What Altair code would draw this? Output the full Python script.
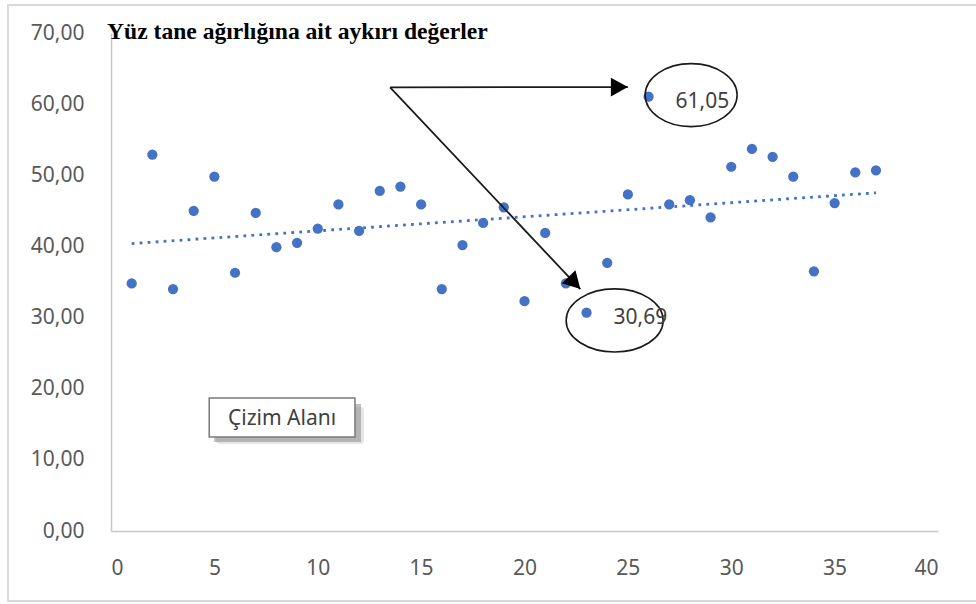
import altair as alt
import pandas as pd

# Sample number and measured hundred-grain weight
sira = list(range(1, 38))
agirlik = [34.8, 52.9, 34.0, 45.0, 49.8, 36.3, 44.7, 39.9, 40.5, 42.5,
           45.9, 42.2, 47.8, 48.4, 45.9, 34.0, 40.2, 43.3, 45.5, 32.3,
           41.9, 34.8, 30.69, 37.7, 47.3, 61.05, 45.9, 46.5, 44.1, 51.2,
           53.7, 52.6, 49.8, 36.5, 46.1, 50.4, 50.7]

# Samples flagged as outliers
aykiri = [26, 23]

# Axis ticks
x_ticks = list(range(0, 41, 5))
y_ticks = list(range(0, 71, 10))

# Annotation geometry (data units)
ok_baslangic = (13.5, 62.36)
ok_uclari_x = [25.0, 22.7]
ok_uclari_y = [62.4, 34.0]
ok_acilari = [0, 46.7]
elips_x = [28.06, 24.36]
elips_y = [61.27, 29.6]
kutu = {"x": 4.75, "x2": 11.8, "y": 13.2, "y2": 18.7}
kutu_metin = "Çizim Alanı"
baslik = "Yüz tane ağırlığına ait aykırı değerler"

W, H = 827, 498
BLUE = "#4472C4"
TXT = "#595959"
FONT = "Noto Sans"

df = pd.DataFrame({"sira": sira, "agirlik": agirlik})
df_out = df[df["sira"].isin(aykiri)]

xs = alt.Scale(domain=[0, 40], nice=False)
ys = alt.Scale(domain=[0, 70], nice=False)

AX = alt.Axis(values=x_ticks, title=None, grid=False, ticks=False,
              domainColor="#C8C8C8", domainWidth=1.5, labelColor=TXT,
              labelFont=FONT, labelFontSize=21, labelPadding=26)
AY = alt.Axis(values=y_ticks, title=None, grid=False, ticks=False,
              domainColor="#C8C8C8", domainWidth=1.5, labelColor=TXT,
              labelFont=FONT, labelFontSize=21, labelPadding=27,
              labelExpr="replace(format(datum.value, '.2f'), '.', ',')")


# annotation layers share the scales but draw no axes of their own
def X(field):
    return alt.X(field, scale=xs, axis=None)


def Y(field):
    return alt.Y(field, scale=ys, axis=None)


one = pd.DataFrame({"a": [0]})

# light border around the whole chart area
frame = alt.Chart(one).mark_rect(
    fill=None, stroke="#D9D9D9", strokeWidth=2
).encode(x=alt.value(-103), x2=alt.value(W + 60), y=alt.value(-28), y2=alt.value(568))

title = alt.Chart(one).mark_text(
    text=baslik, font="Liberation Serif", fontSize=23.6, fontWeight="bold",
    color="#000000", align="left", baseline="alphabetic"
).encode(x=alt.value(-4), y=alt.value(6))

points = alt.Chart(df).mark_circle(size=105, color=BLUE, opacity=1).encode(
    x=alt.X("sira:Q", scale=xs, axis=AX),
    y=alt.Y("agirlik:Q", scale=ys, axis=AY),
)

trend = alt.Chart(df).transform_regression("sira", "agirlik").mark_line(
    color=BLUE, strokeWidth=2.8, strokeDash=[2.8, 5.2], strokeCap="butt"
).encode(x=X("sira:Q"), y=Y("agirlik:Q"))

arrows = pd.DataFrame({
    "x": [ok_baslangic[0]] * 2, "y": [ok_baslangic[1]] * 2,
    "x2": ok_uclari_x, "y2": ok_uclari_y, "aci": ok_acilari,
})
arrow_lines = alt.Chart(arrows).mark_rule(color="#1a1a1a", strokeWidth=1.8).encode(
    x=X("x:Q"), y=Y("y:Q"), x2="x2:Q", y2="y2:Q"
)
arrow_heads = alt.Chart(arrows).mark_point(
    shape="M0,0 L-1,-0.55 L-1,0.55 Z", filled=True, color="#000000",
    size=1156, opacity=1
).encode(x=X("x2:Q"), y=Y("y2:Q"), angle=alt.Angle("aci:Q", scale=None))

e1 = alt.Chart(pd.DataFrame({"x": [elips_x[0]], "y": [elips_y[0]]})).mark_point(
    shape="M-1,0 A1,0.685 0 1,1 1,0 A1,0.685 0 1,1 -1,0 Z", filled=False,
    color="#1a1a1a", strokeWidth=1.6, size=8464, opacity=1
).encode(x=X("x:Q"), y=Y("y:Q"))
e2 = alt.Chart(pd.DataFrame({"x": [elips_x[1]], "y": [elips_y[1]]})).mark_point(
    shape="M-1,0 A1,0.65 0 1,1 1,0 A1,0.65 0 1,1 -1,0 Z", filled=False,
    color="#1a1a1a", strokeWidth=1.6, size=9409, opacity=1
).encode(x=X("x:Q"), y=Y("y:Q"))

labels = alt.Chart(df_out).transform_calculate(
    etiket="replace(format(datum.agirlik, '.2f'), '.', ',')"
).mark_text(align="left", baseline="middle", dx=27, dy=5, font=FONT,
            fontSize=21, color="#404040").encode(
    x=X("sira:Q"), y=Y("agirlik:Q"), text="etiket:N"
)

box_df = pd.DataFrame([kutu])
shadow_outer = alt.Chart(box_df).mark_rect(
    fill="#9a9a9a", opacity=0.25, xOffset=7, yOffset=7, x2Offset=9, y2Offset=9,
    cornerRadius=3
).encode(x=X("x:Q"), x2="x2:Q", y=Y("y:Q"), y2="y2:Q")
shadow = alt.Chart(box_df).mark_rect(
    fill="#8a8a8a", opacity=0.55, xOffset=5, yOffset=5, x2Offset=6, y2Offset=6
).encode(x=X("x:Q"), x2="x2:Q", y=Y("y:Q"), y2="y2:Q")
box = alt.Chart(box_df).mark_rect(
    fill="white", stroke="#7a7a7a", strokeWidth=1.5
).encode(x=X("x:Q"), x2="x2:Q", y=Y("y:Q"), y2="y2:Q")
box_text = alt.Chart(box_df).transform_calculate(
    cx="(datum.x + datum.x2) / 2", cy="(datum.y + datum.y2) / 2"
).mark_text(text=kutu_metin, font=FONT, fontSize=21, color="#404040",
            align="center", baseline="middle", dy=1).encode(
    x=X("cx:Q"), y=Y("cy:Q")
)

chart = alt.layer(
    frame, trend, points, arrow_lines, arrow_heads, e1, e2, labels,
    shadow_outer, shadow, box, box_text, title
).resolve_axis(
    x="independent", y="independent"
).properties(
    width=W, height=H,
    background="white",
    autosize=alt.AutoSizeParams(type="none"),
    padding={"left": 111, "top": 33, "right": 38, "bottom": 73},
).configure_view(strokeWidth=0, stroke="transparent").configure_axis(grid=False)

chart.save("out.html", embed_options={"renderer": "svg", "actions": False})
